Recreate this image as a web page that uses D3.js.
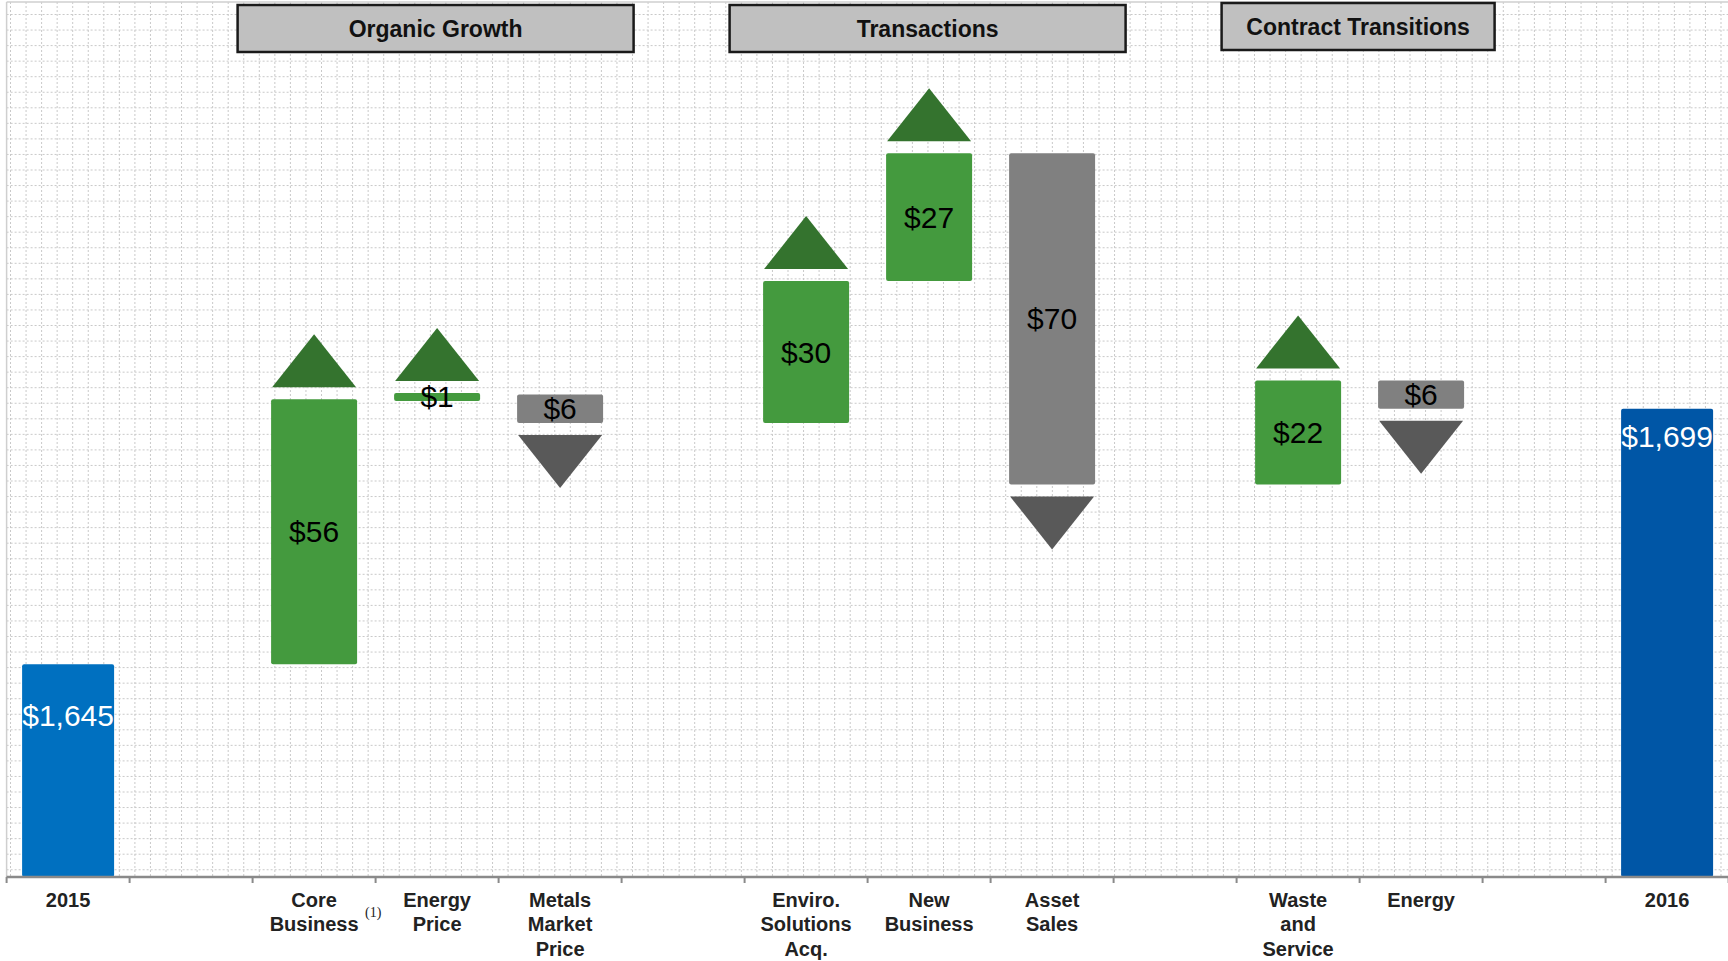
<!DOCTYPE html>
<html>
<head>
<meta charset="utf-8">
<script src="https://cdn.jsdelivr.net/npm/d3@7"></script>
<style>
  html, body { margin: 0; padding: 0; background: #ffffff; }
  svg { display: block; }
</style>
</head>
<body>
<svg id="chart" width="1728" height="961"></svg>
<script>
// ---------------- data ----------------
const categories = ["2015", "", "Core\nBusiness", "Energy\nPrice", "Metals\nMarket\nPrice", "",
  "Enviro.\nSolutions\nAcq.", "New\nBusiness", "Asset\nSales", "", "Waste\nand\nService", "Energy", "", "2016"];
const values = [1645, null, 56, 1, -6, null, 30, 27, -70, null, 22, -6, null, 1699];
const kinds = ["total", "gap", "delta", "delta", "delta", "gap", "delta", "delta", "delta", "gap", "delta", "delta", "gap", "total"];
const valueLabels = ["$1,645", "", "$56", "$1", "$6", "", "$30", "$27", "$70", "", "$22", "$6", "", "$1,699"];
const groupNames = ["Organic Growth", "Transactions", "Contract Transitions"];
const groupFirst = [2, 6, 10];
const groupLast = [4, 8, 11];
const footnotes = { 2: "(1)" };
const yDomain = [1600, 1785];

// ---------------- layout ----------------
const W = 1728, H = 961;
const plot = { left: 6.6, right: 1728.6, top: 2, bottom: 877 };
const svg = d3.select("#chart");

const x = d3.scaleBand().domain(d3.range(categories.length)).range([plot.left, plot.right]).padding(0);
const y = d3.scaleLinear().domain(yDomain).range([plot.bottom, plot.top]);

// ---------------- background grid ----------------
const grid = svg.append("g");
const step = 15.55;
d3.range(10.5, W, step).forEach(gx => {
  grid.append("line").attr("x1", gx).attr("x2", gx).attr("y1", plot.top).attr("y2", plot.bottom)
    .attr("stroke", "#c9c9c9").attr("stroke-width", 1).attr("stroke-dasharray", "2,2");
});
d3.range(14.5, plot.bottom, step).forEach(gy => {
  grid.append("line").attr("x1", plot.left).attr("x2", W).attr("y1", gy).attr("y2", gy)
    .attr("stroke", "#c9c9c9").attr("stroke-width", 1).attr("stroke-dasharray", "2,2");
});
// frame
svg.append("line").attr("x1", plot.left).attr("x2", W).attr("y1", plot.top).attr("y2", plot.top)
  .attr("stroke", "#cfcfcf").attr("stroke-width", 1.5);
svg.append("line").attr("x1", plot.left).attr("x2", plot.left).attr("y1", plot.top).attr("y2", plot.bottom)
  .attr("stroke", "#cfcfcf").attr("stroke-width", 1.5);

// ---------------- compute waterfall ----------------
let running = 0;
const items = categories.map((c, i) => {
  const v = values[i];
  const k = kinds[i];
  let lo = null, hi = null;
  if (k === "total") { lo = yDomain[0]; hi = v; running = v; }
  else if (k === "delta") {
    const start = running; const end = running + v;
    lo = Math.min(start, end); hi = Math.max(start, end); running = end;
  }
  return { i, c, v, k, lo, hi, label: valueLabels[i] };
});

const colors = {
  totalFirst: "#0070c0", totalLast: "#0056a6",
  up: "#449a3e", upArrow: "#34732e",
  down: "#808080", downArrow: "#595959"
};

const bars = svg.append("g");
const totalW = 92, deltaW = 86, triW = 84, triH = 53, triGap = 12;

items.filter(d => d.k !== "gap").forEach(d => {
  const cx = x(d.i) + x.bandwidth() / 2;
  const bw = d.k === "total" ? totalW : deltaW;
  let yTop = y(d.hi), yBot = y(d.lo);
  if (yBot - yTop < 8) { const m = (yTop + yBot) / 2; yTop = m - 4; yBot = m + 4; }
  let fill;
  if (d.k === "total") fill = d.i === 0 ? colors.totalFirst : colors.totalLast;
  else fill = d.v >= 0 ? colors.up : colors.down;
  bars.append("rect")
    .attr("x", cx - bw / 2).attr("y", yTop)
    .attr("width", bw).attr("height", yBot - yTop)
    .attr("rx", 2).attr("fill", fill);

  if (d.k === "delta") {
    if (d.v >= 0) {
      const b = yTop - triGap;
      bars.append("path")
        .attr("d", `M${cx - triW / 2},${b} L${cx + triW / 2},${b} L${cx},${b - triH} Z`)
        .attr("fill", colors.upArrow);
    } else {
      const b = yBot + triGap;
      bars.append("path")
        .attr("d", `M${cx - triW / 2},${b} L${cx + triW / 2},${b} L${cx},${b + triH} Z`)
        .attr("fill", colors.downArrow);
    }
    bars.append("text")
      .attr("x", cx).attr("y", (yTop + yBot) / 2)
      .attr("dy", "0.35em").attr("text-anchor", "middle")
      .attr("font-family", "Liberation Sans, Arial, sans-serif")
      .attr("font-size", 30).attr("fill", "#000")
      .text(d.label);
  } else {
    const off = d.i === 0 ? 51 : 28;
    bars.append("text")
      .attr("x", cx).attr("y", yTop + off)
      .attr("dy", "0.35em").attr("text-anchor", "middle")
      .attr("font-family", "Liberation Sans, Arial, sans-serif")
      .attr("font-size", 30).attr("fill", "#fff")
      .text(d.label);
  }
});

// ---------------- axis ----------------
const axis = svg.append("g");
axis.append("line").attr("x1", plot.left).attr("x2", W).attr("y1", plot.bottom).attr("y2", plot.bottom)
  .attr("stroke", "#8a8a8a").attr("stroke-width", 2.5);
const tickXs = d3.range(categories.length + 1).map(i => i < categories.length ? x(i) : x(i - 1) + x.bandwidth());
tickXs.forEach(tx => {
  axis.append("line").attr("x1", tx).attr("x2", tx).attr("y1", plot.bottom).attr("y2", plot.bottom + 6)
    .attr("stroke", "#8a8a8a").attr("stroke-width", 2);
});
categories.forEach((c, i) => {
  if (!c) return;
  const cx = x(i) + x.bandwidth() / 2;
  const lines = c.split("\n");
  const t = axis.append("text")
    .attr("text-anchor", "middle")
    .attr("font-family", "Liberation Sans, Arial, sans-serif")
    .attr("font-weight", "bold").attr("font-size", 20).attr("fill", "#222");
  lines.forEach((ln, j) => {
    t.append("tspan").attr("x", cx).attr("y", 907 + j * 24.3).text(ln);
  });
  if (footnotes[i]) {
    axis.append("text")
      .attr("x", cx + 51).attr("y", 917)
      .attr("font-family", "Liberation Serif, Times New Roman, serif")
      .attr("font-size", 14).attr("fill", "#222")
      .text(footnotes[i]);
  }
});

// ---------------- group header boxes ----------------
const hdr = svg.append("g");
groupNames.forEach((g, k) => {
  const x0 = x(groupFirst[k]) - 15;
  const x1 = x(groupLast[k]) + x.bandwidth() + 12;
  const yTop = k === 2 ? 3 : 5;
  hdr.append("rect")
    .attr("x", x0).attr("y", yTop).attr("width", x1 - x0).attr("height", 47)
    .attr("fill", "#c0c0c0").attr("stroke", "#1a1a1a").attr("stroke-width", 2.5);
  hdr.append("text")
    .attr("x", (x0 + x1) / 2).attr("y", yTop + 23.5).attr("dy", "0.35em")
    .attr("text-anchor", "middle")
    .attr("font-family", "Liberation Sans, Arial, sans-serif")
    .attr("font-weight", "bold").attr("font-size", 23).attr("fill", "#111")
    .text(g);
});
</script>
</body>
</html>
